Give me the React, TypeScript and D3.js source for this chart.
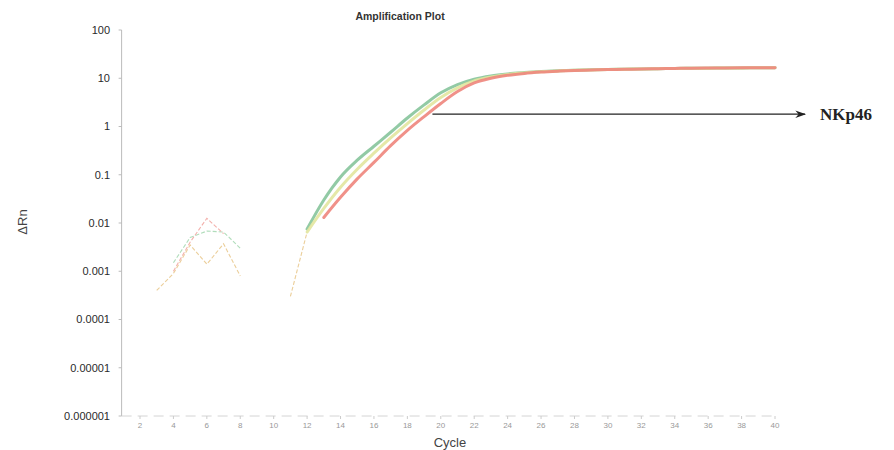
import React from "react";
import * as d3 from "d3";

// Cycle numbers 1..40
const cycles: number[] = d3.range(1, 41);

// ΔRn per cycle for the three replicate wells (null = not plotted, e.g. ΔRn ≤ 0)
const greenValues: (number | null)[] = [
  null, null, null, 0.0015, 0.005, 0.0068, 0.0065, 0.003, null, null,
  null, 0.0075, 0.03, 0.09, 0.2, 0.39, 0.76, 1.5, 2.8, 5.0,
  7.4, 9.6, 11.2, 12.3, 13.1, 13.8, 14.3, 14.7, 15.0, 15.2,
  15.4, 15.6, 15.8, 16.0, 16.1, 16.2, 16.3, 16.4, 16.5, 16.6,
];
const yellowValues: (number | null)[] = [
  null, null, 0.0004, 0.0009, 0.0035, 0.0014, 0.0037, 0.0008, null, null,
  0.0003, 0.0065, 0.02, 0.055, 0.13, 0.28, 0.58, 1.15, 2.2, 4.0,
  6.3, 8.8, 10.6, 12.0, 12.9, 13.6, 14.2, 14.6, 14.9, 15.2,
  15.4, 15.6, 15.8, 16.0, 16.1, 16.2, 16.3, 16.4, 16.5, 16.6,
];
const redValues: (number | null)[] = [
  null, null, null, 0.001, 0.004, 0.0125, 0.006, null, null, null,
  null, null, 0.013, 0.034, 0.082, 0.18, 0.4, 0.83, 1.6, 3.0,
  5.3, 8.0, 10.0, 11.5, 12.6, 13.4, 14.0, 14.5, 14.8, 15.1,
  15.3, 15.6, 15.8, 16.0, 16.2, 16.3, 16.4, 16.5, 16.5, 16.6,
];

const yTickValues: number[] = [100, 10, 1, 0.1, 0.01, 0.001, 0.0001, 0.00001, 0.000001];
const yTickLabels: string[] = ["100", "10", "1", "0.1", "0.01", "0.001", "0.0001", "0.00001", "0.000001"];
const xTickValues: number[] = d3.range(2, 41, 2);

// Cycle from which the exponential phase is drawn as a solid trace
const exponentialStart = 12;

// Annotation arrow (in data units)
const arrowFrom = { cycle: 19.5, value: 1.8 };
const arrowToCycle = 41.8;
const arrowLabel = "NKp46";

const series = [
  { name: "well A", values: greenValues, color: "#86c49b", faint: "#a9d9b4" },
  { name: "well B", values: yellowValues, color: "#e2e59e", faint: "#e9c98e" },
  { name: "well C", values: redValues, color: "#ee857c", faint: "#f2a7a2" },
];

export default function App() {
  const width = 894;
  const height = 450;

  const x = d3.scaleLinear().domain([2, 40]).range([140, 775]);
  const y = d3.scaleLog().domain([1e-6, 100]).range([416, 30]);

  const axisX = x(0.9);
  const baseY = y(1e-6);

  type Pt = { c: number; v: number | null };
  const smooth = d3
    .line<Pt>()
    .defined((d) => d.v !== null && d.v > 0)
    .x((d) => x(d.c))
    .y((d) => y(d.v as number))
    .curve(d3.curveMonotoneX);
  const straight = d3
    .line<Pt>()
    .defined((d) => d.v !== null && d.v > 0)
    .x((d) => x(d.c))
    .y((d) => y(d.v as number));

  const early = (vals: (number | null)[]): Pt[] =>
    cycles.map((c, i) => ({ c, v: c <= exponentialStart ? vals[i] : null }));
  const late = (vals: (number | null)[]): Pt[] =>
    cycles.map((c, i) => ({ c, v: c >= exponentialStart ? vals[i] : null }));

  const ax0 = x(arrowFrom.cycle);
  const ay = y(arrowFrom.value);
  const ax1 = x(arrowToCycle);

  return (
    <svg
      width={width}
      height={height}
      style={{ position: "absolute", left: 0, top: 0, background: "#fff" }}
      fontFamily="Liberation Sans, Arial, sans-serif"
    >
      <defs>
        <marker id="arrowHead" viewBox="0 0 10 10" refX="9" refY="5" markerWidth="9" markerHeight="9" orient="auto">
          <path d="M0,1.5 L10,5 L0,8.5 L3,5 Z" fill="#222" />
        </marker>
      </defs>

      {/* Title */}
      <text x={400} y={20} textAnchor="middle" fontSize={10.5} fill="#333" fontWeight={600}>
        Amplification Plot
      </text>

      {/* Y axis */}
      <line x1={axisX} x2={axisX} y1={y(100)} y2={baseY} stroke="#bbb" strokeWidth={1} />
      {yTickValues.map((v, i) => (
        <g key={v}>
          <line x1={axisX - 3} x2={axisX} y1={y(v)} y2={y(v)} stroke="#bbb" />
          <text x={110} y={y(v)} dy="0.35em" textAnchor="end" fontSize={11} fill="#2a2a2a">
            {yTickLabels[i]}
          </text>
        </g>
      ))}
      <text
        transform={`translate(${22},${222}) rotate(-90)`}
        textAnchor="middle"
        dy="0.35em"
        fontSize={13}
        fill="#444"
      >
        ΔRn
      </text>

      {/* X axis */}
      <line x1={axisX} x2={x(40)} y1={baseY} y2={baseY} stroke="#d4d4d4" strokeDasharray="10 6" />
      {xTickValues.map((c) => (
        <g key={c}>
          <line x1={x(c)} x2={x(c)} y1={baseY} y2={baseY + 3} stroke="#ccc" />
          <text x={x(c)} y={baseY + 12} textAnchor="middle" fontSize={8} fill="#999">
            {c}
          </text>
        </g>
      ))}
      <text x={450} y={447} textAnchor="middle" fontSize={13} fill="#444">
        Cycle
      </text>

      {/* Baseline noise and early cycles */}
      {series.map((s) => (
        <path
          key={s.name + "-early"}
          d={straight(early(s.values)) || ""}
          fill="none"
          stroke={s.faint}
          strokeWidth={1.1}
          strokeDasharray="4 2"
          opacity={0.9}
        />
      ))}

      {/* Exponential and plateau phases */}
      {series.map((s) => (
        <path
          key={s.name + "-late"}
          d={smooth(late(s.values)) || ""}
          fill="none"
          stroke={s.color}
          strokeWidth={3}
          strokeLinecap="round"
          opacity={0.9}
        />
      ))}

      {/* Annotation */}
      <line x1={ax0} x2={ax1} y1={ay} y2={ay} stroke="#222" strokeWidth={1.2} markerEnd="url(#arrowHead)" />
      <text
        x={ax1 + 15}
        y={ay}
        dy="0.35em"
        fontSize={17}
        fontWeight="bold"
        fontFamily="Liberation Serif, Times New Roman, serif"
        fill="#222"
      >
        {arrowLabel}
      </text>
    </svg>
  );
}
